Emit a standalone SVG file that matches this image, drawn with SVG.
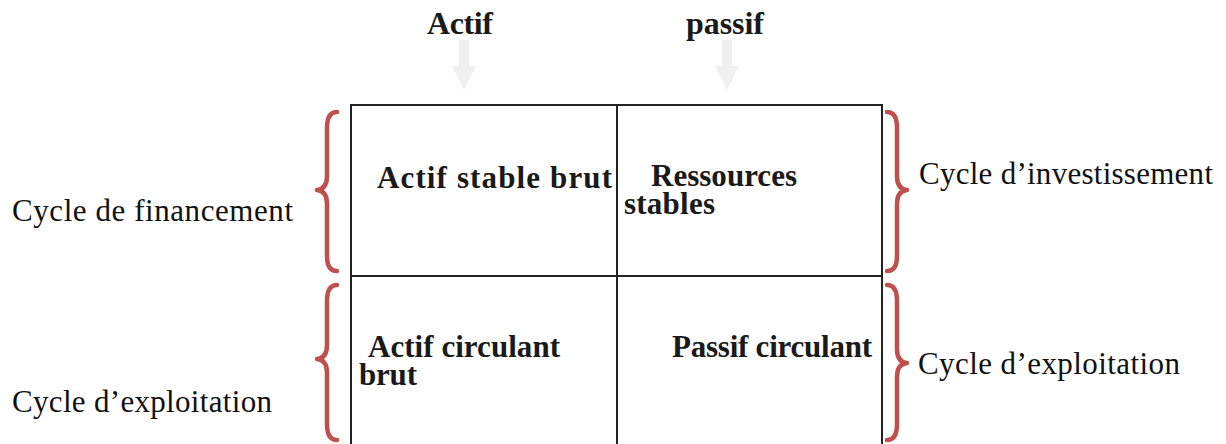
<svg xmlns="http://www.w3.org/2000/svg" width="1226" height="444" viewBox="0 0 1226 444">
  <style>
    .head { font-family: "Liberation Serif", "Times New Roman", serif; font-weight: bold; font-size: 32px; fill: #1a1a1a; }
    .cell { font-family: "Liberation Serif", "Times New Roman", serif; font-weight: bold; font-size: 31px; fill: #1a1a1a; }
    .side { font-family: "Liberation Serif", "Times New Roman", serif; font-size: 31px; fill: #111; }
    .grid { fill: none; stroke: #222; stroke-width: 2; }
    .brace { fill: none; stroke: #c0504d; stroke-width: 4.5; stroke-linecap: round; stroke-linejoin: round; }
    .down { fill: #f0f0f0; }
  </style>
  <defs>
    <path id="arrow" class="down" d="M -5 40 L 5 40 L 5 66 L 12 66 L 0 90 L -12 66 L -5 66 Z"/>
  </defs>

  <rect width="1226" height="444" fill="#fff"/>

  <!-- column headings -->
  <g id="heading-actif">
    <text class="head" x="427" y="34" textLength="66">Actif</text>
    <use href="#arrow" x="464"/>
  </g>
  <g id="heading-passif">
    <text class="head" x="686" y="34" textLength="78">passif</text>
    <use href="#arrow" x="727"/>
  </g>

  <!-- balance sheet grid -->
  <g id="grid">
    <path class="grid" d="M 351 445 V 105 H 882 V 445 M 617 105 V 445 M 351 276 H 882"/>
  </g>

  <g id="cell-actif-stable">
    <text class="cell" x="377" y="188" textLength="235">Actif  stable  brut</text>
  </g>
  <g id="cell-ressources-stables">
    <text class="cell"><tspan x="651" y="186" textLength="146">Ressources</tspan><tspan x="624" y="214" textLength="91">stables</tspan></text>
  </g>
  <g id="cell-actif-circulant">
    <text class="cell"><tspan x="368" y="357" textLength="192">Actif circulant</tspan><tspan x="359" y="385" textLength="58">brut</tspan></text>
  </g>
  <g id="cell-passif-circulant">
    <text class="cell" x="672" y="357" textLength="200">Passif circulant</text>
  </g>

  <!-- curly braces -->
  <g id="connectors">
    <path class="brace" d="M 337 112 Q 327 112 327 128 V 176 Q 327 189 317 190 Q 327 191 327 204 V 256 Q 327 271 337 271"/>
    <path class="brace" d="M 337 285 Q 327 285 327 301 V 345 Q 327 358 317 359 Q 327 360 327 373 V 424 Q 327 440 337 440"/>
    <path class="brace" d="M 887 112 Q 897 112 897 128 V 176 Q 897 189 907 190 Q 897 191 897 204 V 256 Q 897 271 887 271"/>
    <path class="brace" d="M 887 285 Q 897 285 897 301 V 349 Q 897 362 907 363 Q 897 364 897 377 V 424 Q 897 440 887 440"/>
  </g>

  <!-- cycle labels -->
  <g id="label-financement">
    <text class="side" x="12" y="221" textLength="281">Cycle  de financement</text>
  </g>
  <g id="label-exploitation-left">
    <text class="side" x="12" y="412" textLength="260">Cycle d’exploitation</text>
  </g>
  <g id="label-investissement">
    <text class="side" x="919" y="184" textLength="294">Cycle d’investissement</text>
  </g>
  <g id="label-exploitation-right">
    <text class="side" x="918" y="374" textLength="262">Cycle d’exploitation</text>
  </g>
</svg>
